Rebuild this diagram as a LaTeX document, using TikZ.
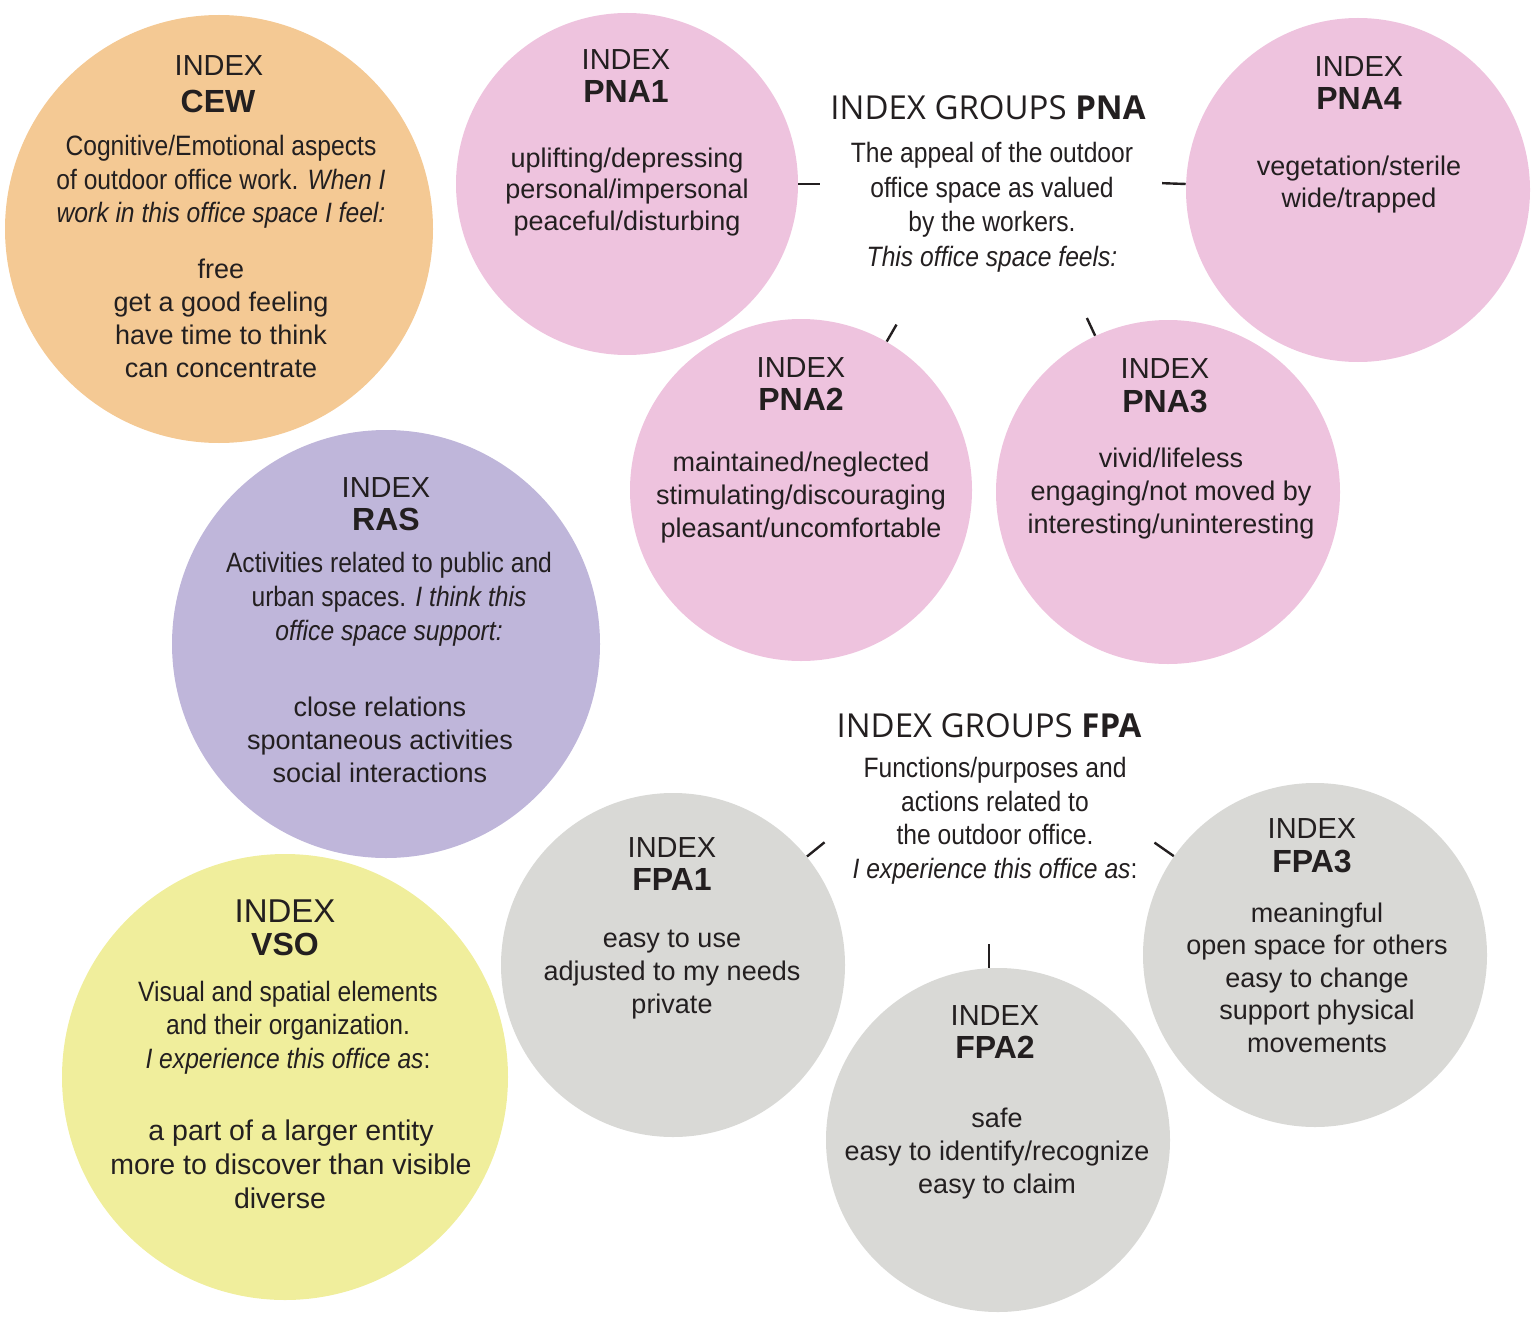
\documentclass[tikz,border=0pt]{standalone}
\usepackage{fontspec}
\setmainfont{Liberation Sans}
\newfontfamily\condensed[FakeStretch=0.88]{Liberation Sans}
\newfontfamily\grouphead{Open Sans}
\usetikzlibrary{calc}

\definecolor{txt}{HTML}{231F20}
\definecolor{cewfill}{HTML}{F4C994}
\definecolor{pnafill}{HTML}{EEC3DE}
\definecolor{rasfill}{HTML}{BFB6DA}
\definecolor{vsofill}{HTML}{F0EE9C}
\definecolor{fpafill}{HTML}{D9D9D6}

% multi-line blocks are placed at the baseline of their last line
\tikzset{
  bubble/.style={circle, inner sep=0pt, minimum size=#1},
  idx/.style={anchor=base, inner sep=0pt, text=txt, font=\fontsize{14.5}{17}\selectfont},
  code/.style={anchor=base, inner sep=0pt, text=txt, font=\bfseries\fontsize{16}{19}\selectfont},
  desc/.style={anchor=base, inner sep=0pt, align=center, text=txt, font=\condensed\fontsize{14}{16.75}\selectfont},
  items/.style={anchor=base, inner sep=0pt, align=center, text=txt, font=\fontsize{13.5}{16.5}\selectfont},
  grouptitle/.style={anchor=base, inner sep=0pt, text=txt, font=\grouphead\fontsize{16.5}{19}\selectfont},
  tick/.style={draw=txt, line width=1.2pt}
}

\begin{document}
\begin{tikzpicture}[x=0.5pt,y=-0.5pt]
\useasboundingbox (0,0) rectangle (1535,1316);

% Circle CEW
\node (cew) [bubble=214pt, fill=cewfill] at (219,229) {};
\node (cewidx) [idx] at (219,76) {INDEX};
\node (cewcode) [code] at (218,113) {CEW};
\node (cewdesc) [desc] at (221,223) {Cognitive/Emotional aspects\\of outdoor office work. \textit{When I}\\\textit{work in this office space I feel:}};
\node (cewitems) [items] at (221,377) {free\\get a good feeling\\have time to think\\can concentrate};

% Circle PNA1
\node (pnaA) [bubble=171pt, fill=pnafill] at (627,184) {};
\node (pnaAidx) [idx] at (626,70) {INDEX};
\node (pnaAcode) [code] at (626,103) {PNA1};
\node (pnaAitems) [items, font=\fontsize{13.5}{15.75}\selectfont] at (627,230) {uplifting/depressing\\personal/impersonal\\peaceful/disturbing};

% Circle PNA4
\node (pnaD) [bubble=172pt, fill=pnafill] at (1358,190) {};
\node (pnaDidx) [idx] at (1359,77) {INDEX};
\node (pnaDcode) [code] at (1359,110) {PNA4};
\node (pnaDitems) [items] at (1359,208) {vegetation/sterile\\wide/trapped};

% Circle PNA2
\node (pnaB) [bubble=171pt, fill=pnafill] at (801,490) {};
\node (pnaBidx) [idx] at (801,377) {INDEX};
\node (pnaBcode) [code] at (801,410) {PNA2};
\node (pnaBitems) [items] at (801,537) {maintained/neglected\\stimulating/discouraging\\pleasant/uncomfortable};

% Circle PNA3
\node (pnaC) [bubble=172pt, fill=pnafill] at (1168,492) {};
\node (pnaCidx) [idx] at (1165,378) {INDEX};
\node (pnaCcode) [code] at (1165,412) {PNA3};
\node (pnaCitems) [items] at (1171,533) {vivid/lifeless\\engaging/not moved by\\interesting/uninteresting};

% Circle RAS
\node (ras) [bubble=214pt, fill=rasfill] at (386,644) {};
\node (rasidx) [idx] at (386,497) {INDEX};
\node (rascode) [code] at (386,530) {RAS};
\node (rasdesc) [desc, font=\condensed\fontsize{14}{17}\selectfont] at (389,640) {Activities related to public and\\urban spaces. \textit{I think this}\\\textit{office space support:}};
\node (rasitems) [items] at (380,782) {close relations\\spontaneous activities\\social interactions};

% Circle VSO
\node (vso) [bubble=223pt, fill=vsofill] at (285,1077) {};
\node (vsoidx) [idx, font=\fontsize{16.5}{19}\selectfont] at (285,922) {INDEX};
\node (vsocode) [code] at (285,955) {VSO};
\node (vsodesc) [desc] at (288,1068) {Visual and spatial elements\\and their organization.\\\textit{I experience this office as}:};
\node (vsoitems) [items, font=\fontsize{14.25}{17}\selectfont] at (291,1208) {a part of a larger entity\\more to discover than visible\\diverse\hspace*{11pt}};

% Circle FPA1
\node (fpaA) [bubble=172pt, fill=fpafill] at (673,965) {};
\node (fpaAidx) [idx] at (672,857) {INDEX};
\node (fpaAcode) [code] at (672,890) {FPA1};
\node (fpaAitems) [items] at (672,1013) {easy to use\\adjusted to my needs\\private};

% Circle FPA2
\node (fpaB) [bubble=172pt, fill=fpafill] at (998,1140) {};
\node (fpaBidx) [idx] at (995,1025) {INDEX};
\node (fpaBcode) [code] at (995,1058) {FPA2};
\node (fpaBitems) [items] at (997,1193) {safe\\easy to identify/recognize\\easy to claim};

% Circle FPA3
\node (fpaC) [bubble=172pt, fill=fpafill] at (1315,955) {};
\node (fpaCidx) [idx] at (1312,838) {INDEX};
\node (fpaCcode) [code] at (1312,872) {FPA3};
\node (fpaCitems) [items, font=\fontsize{13.5}{16.25}\selectfont] at (1317,1052) {meaningful\\open space for others\\easy to change\\support physical\\movements};

% Group PNA
\node (pnatitle) [grouptitle] at (988,120) {INDEX GROUPS \textbf{PNA}};
\node (pnadesc) [desc, font=\condensed\fontsize{14}{17.25}\selectfont] at (992,266) {The appeal of the outdoor\\office space as valued\\by the workers.\\\textit{This office space feels:}};

% Group FPA
\node (fpatitle) [grouptitle] at (989,737) {INDEX GROUPS \textbf{FPA}};
\node (fpadesc) [desc] at (995,878) {Functions/purposes and\\actions related to\\the outdoor office.\\\textit{I experience this office as}:};

% Ticks of group PNA
\coordinate (pnaAtick) at ($(pnaA.center)!96.5pt!(pnaA.0)$);
\coordinate (pnaDtick) at ($(pnaD.center)!98pt!(pnaD.178)$);
\coordinate (pnaBtick) at ($(pnaB.center)!95.5pt!(pnaB.60)$);
\coordinate (pnaCtick) at ($(pnaC.center)!96pt!(pnaC.115)$);
\draw [tick] (pnaA.0) -- (pnaAtick);
\draw [tick] (pnaD.178) -- (pnaDtick);
\draw [tick] (pnaB.60) -- (pnaBtick);
\draw [tick] (pnaC.115) -- (pnaCtick);

% Ticks of group FPA
\coordinate (fpaAtick) at ($(fpaA.center)!97.5pt!(fpaA.39)$);
\coordinate (fpaCtick) at ($(fpaC.center)!98pt!(fpaC.145)$);
\coordinate (fpaBtick) at ($(fpaB.93)+(0,-24)$);
\draw [tick] (fpaA.39) -- (fpaAtick);
\draw [tick] (fpaC.145) -- (fpaCtick);
\draw [tick] (fpaB.93) -- (fpaBtick);
\end{tikzpicture}
\end{document}
